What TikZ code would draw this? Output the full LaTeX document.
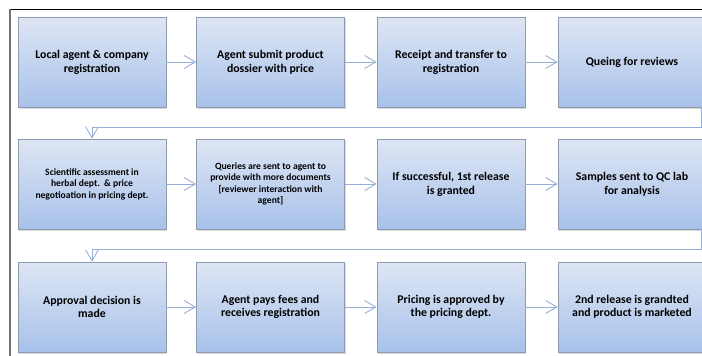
\documentclass[tikz,border=0pt]{standalone}
\usepackage{fontspec}
\setmainfont{Carlito}
\usetikzlibrary{arrows.meta,shadows}

\definecolor{boxtop}{HTML}{DEE6F4}
\definecolor{boxbot}{HTML}{A8C1EA}
\definecolor{boxedge}{HTML}{8E9AAE}
\definecolor{linkblue}{HTML}{97AFD6}

\tikzset{
  stepbox/.style={draw=boxedge, line width=0.8pt, top color=boxtop, bottom color=boxbot,
    minimum width=148pt, minimum height=90pt, inner sep=0pt, align=center,
    font=\bfseries\fontsize{11.8}{14}\selectfont,
    drop shadow={shadow xshift=1.2pt, shadow yshift=-1.6pt, opacity=0.3}},
  smalltext/.style={font=\bfseries\fontsize{9.6}{11.5}\selectfont},
  tighttext/.style={font=\bfseries\fontsize{11.8}{12.5}\selectfont},
  link/.style={draw=linkblue, line width=0.9pt, -{Straight Barb[length=11pt,width=13pt]}}
}

\begin{document}
\begin{tikzpicture}[x=10pt, y=-10pt]
                \useasboundingbox (0, 0) rectangle (70.2, 35.6);
                \clip (0, 0) rectangle (70.2, 35.6);

                % frame
                \draw[black, line width=0.8pt] (1.0, 0.9) -- (70.2, 0.9);
                \draw[black!55, line width=2pt] (1.0, 0.9) -- (1.0, 35.6);

                % first row
                \node[stepbox] (s1) at (9.2, 6.2) {Local agent \& company\\registration};
                \node[stepbox] (s2) at (27.05, 6.2) {Agent submit product\\dossier with price};
                \node[stepbox] (s3) at (45.1, 6.2) {Receipt and transfer to\\registration};
                \node[stepbox] (s4) at (63.2, 6.2) {Queing for reviews};

                % second row
                \node[stepbox, smalltext] (s5) at (9.2, 18.4) {Scientific assessment in\\herbal dept.\ \ \& price\\negotioation in pricing dept.};
                \node[stepbox, smalltext] (s6) at (27.05, 18.4) {Queries are sent to agent to\\provide with more documents\\{[}reviewer interaction with\\agent{]}};
                \node[stepbox] (s7) at (45.1, 18.4) {If successful, 1st release\\is granted};
                \node[stepbox] (s8) at (63.2, 18.4) {Samples sent to QC lab\\for analysis};

                % third row
                \node[stepbox, tighttext] (s9) at (9.2, 30.7) {Approval decision is\\made};
                \node[stepbox, tighttext] (s10) at (27.05, 30.7) {Agent pays fees and\\receives registration};
                \node[stepbox, tighttext] (s11) at (45.1, 30.7) {Pricing is approved by\\the pricing dept.};
                \node[stepbox, tighttext] (s12) at (63.2, 30.7) {2nd release is grandted\\and product is marketed};

                % arrows along each row
                \draw[link] (s1) -- (s2);
                \draw[link] (s2) -- (s3);
                \draw[link] (s3) -- (s4);
                \draw[link] (s5) -- (s6);
                \draw[link] (s6) -- (s7);
                \draw[link] (s7) -- (s8);
                \draw[link] (s9) -- (s10);
                \draw[link] (s10) -- (s11);
                \draw[link] (s11) -- (s12);

                % bends down to the next row
                \coordinate (bend1) at (70.1, 12.7);
                \coordinate (bend2) at (70.1, 24.9);
                \draw[link] (s4.south -| bend1) -- (bend1) -| (s5.north);
                \draw[link] (s8.south -| bend2) -- (bend2) -| (s9.north);
\end{tikzpicture}
\end{document}
